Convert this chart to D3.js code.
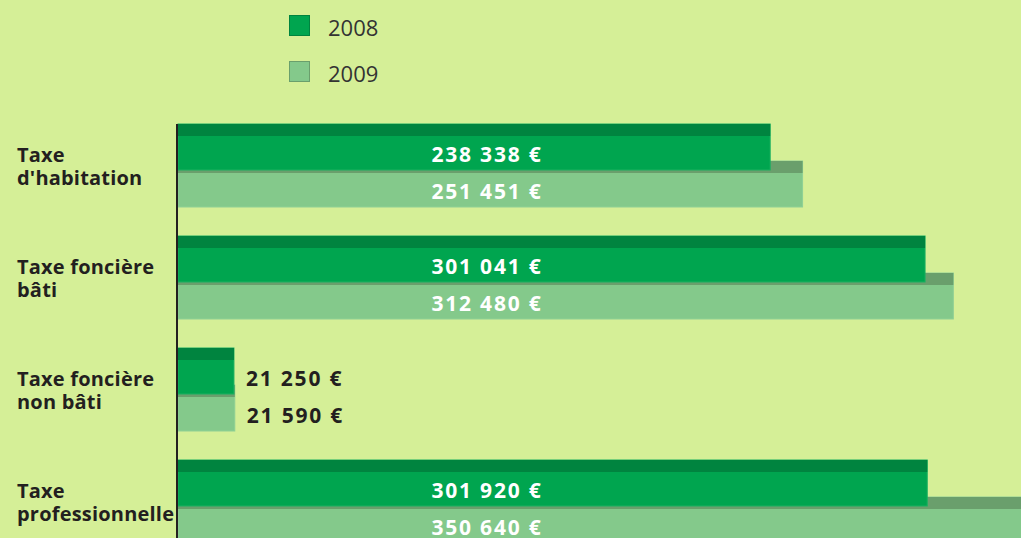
<!DOCTYPE html>
<html>
<head>
<meta charset="utf-8">
<script src="https://cdn.jsdelivr.net/npm/d3@7"></script>
<style>
  body { margin: 0; background: #d5ef97; }
  svg { display: block; }
</style>
</head>
<body>
<svg id="chart" width="1021" height="538"></svg>
<script>
var categories = [["Taxe", "d'habitation"], ["Taxe foncière", "bâti"], ["Taxe foncière", "non bâti"], ["Taxe", "professionnelle"]];
var years = ["2008", "2009"];
var values2008 = [238338, 301041, 21250, 301920];
var values2009 = [251451, 312480, 21590, 350640];

var W = 1021, H = 538;
var svg = d3.select("#chart");
var font = "'Open Sans', 'DejaVu Sans', sans-serif";

var colors = { "2008": { body: "#00a54f", top: "#00843f", edge: "#1bb060" },
               "2009": { body: "#84c98b", top: "#6a9f6c", edge: "#8fd095" } };

// the original drawing is not quite proportional; small offset at zero
var x = d3.scaleLinear().domain([-1400, 400000]).range([178, 178 + 991.5]);
var x0 = 178;
var y = d3.scaleBand().domain(d3.range(categories.length)).range([124, 124 + 112 * categories.length]);
var yInner = d3.scaleBand().domain(years).range([0, 74]);
var stripH = 12, bodyH = 34;

var fmt = function(v) { return d3.format(",")(v).replace(/,/g, " ") + " €"; };

var rows = [];
years.slice().reverse().forEach(function(yr) {
  var vals = yr === "2008" ? values2008 : values2009;
  vals.forEach(function(v, i) { rows.push({ year: yr, value: v, i: i }); });
});

var bars = svg.selectAll("g.bar").data(rows).enter().append("g").attr("class", "bar");
bars.append("rect")
  .attr("x", x0)
  .attr("y", function(d) { return y(d.i) + yInner(d.year); })
  .attr("width", function(d) { return x(d.value) - x0; })
  .attr("height", stripH + bodyH)
  .attr("fill", function(d) { return colors[d.year].body; })
  .attr("stroke", function(d) { return colors[d.year].edge; })
  .attr("stroke-width", 1);
bars.append("rect")
  .attr("x", x0)
  .attr("y", function(d) { return y(d.i) + yInner(d.year); })
  .attr("width", function(d) { return x(d.value) - x0; })
  .attr("height", stripH)
  .attr("fill", function(d) { return colors[d.year].top; });

// value labels
bars.append("text")
  .attr("x", function(d) { return d.value > 100000 ? 487 : x(d.value) + 12; })
  .attr("y", function(d) { return y(d.i) + yInner(d.year) + stripH + bodyH / 2 + 1; })
  .attr("dy", "0.36em")
  .attr("text-anchor", function(d) { return d.value > 100000 ? "middle" : "start"; })
  .attr("font-family", font)
  .attr("font-weight", "bold")
  .attr("font-size", 21)
  .attr("letter-spacing", 1.8)
  .attr("fill", function(d) { return d.value > 100000 ? "#ffffff" : "#231f20"; })
  .text(function(d) { return fmt(d.value); });

// axis line
svg.append("line")
  .attr("x1", x0 - 1).attr("x2", x0 - 1)
  .attr("y1", y(0)).attr("y2", H)
  .attr("stroke", "#231f20").attr("stroke-width", 2);

// category labels
var cat = svg.selectAll("text.cat").data(categories).enter().append("text")
  .attr("class", "cat")
  .attr("font-family", font)
  .attr("font-weight", "bold")
  .attr("font-size", 20)
  .attr("letter-spacing", 0.2)
  .attr("fill", "#231f20");
cat.each(function(lines, i) {
  d3.select(this).selectAll("tspan").data(lines).enter().append("tspan")
    .attr("x", 17)
    .attr("y", function(l, k) { return y(i) + 38 + k * 23; })
    .text(function(l) { return l; });
});

// legend
var legend = svg.selectAll("g.legend").data(years).enter().append("g")
  .attr("class", "legend")
  .attr("transform", function(d, i) { return "translate(289," + (15 + i * 46) + ")"; });
legend.append("rect")
  .attr("x", 0.5).attr("y", 0.5).attr("width", 20).attr("height", 20)
  .attr("fill", function(d) { return colors[d].body; })
  .attr("stroke", function(d) { return colors[d].top; });
legend.append("text")
  .attr("x", 39).attr("y", 21)
  .attr("font-family", font)
  .attr("font-size", 22)
  .attr("fill", "#333333")
  .text(function(d) { return d; });
</script>
</body>
</html>
